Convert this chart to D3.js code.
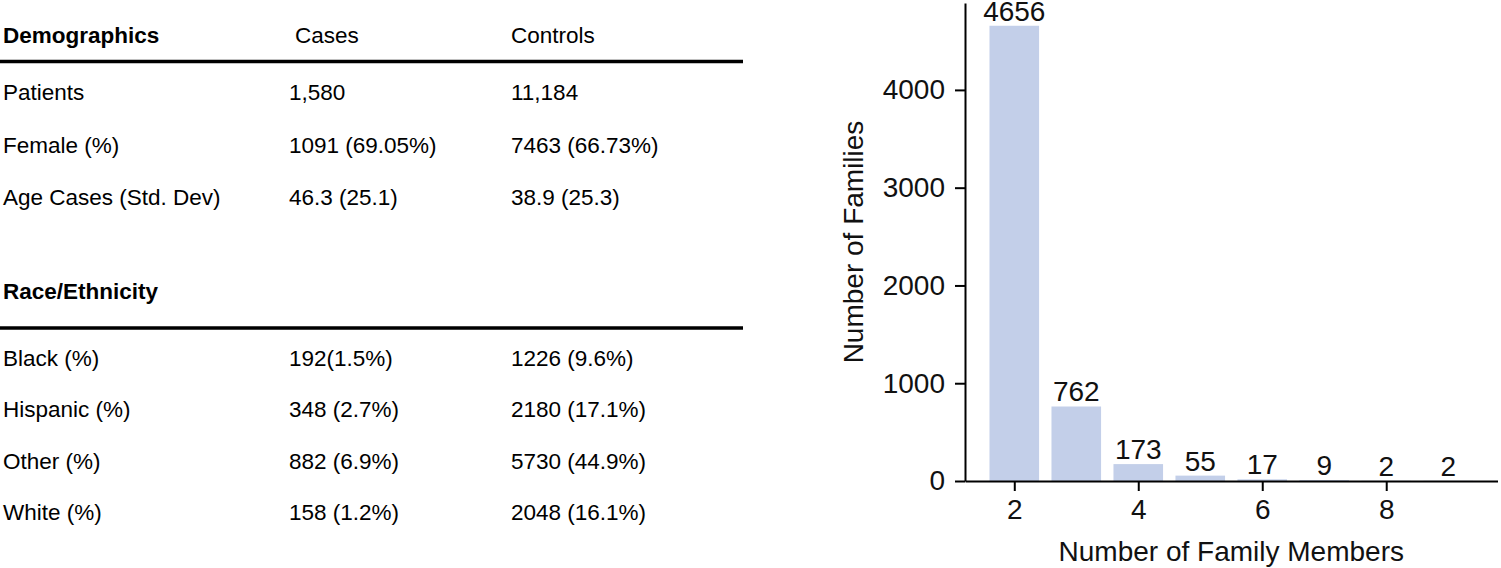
<!DOCTYPE html>
<html>
<head>
<meta charset="utf-8">
<script src="https://cdn.jsdelivr.net/npm/d3@7"></script>
<style>
  body { margin: 0; background: #fff; }
  svg { display: block; font-family: "Liberation Sans", Arial, sans-serif; }
</style>
</head>
<body>
<div id="chart"></div>
<script>
// Data
const tableHeaders = ['Demographics', 'Cases', 'Controls']
const demoLabels = ['Patients', 'Female (%)', 'Age Cases (Std. Dev)']
const demoCases = ['1,580', '1091 (69.05%)', '46.3 (25.1)']
const demoControls = ['11,184', '7463 (66.73%)', '38.9 (25.3)']
const raceTitle = 'Race/Ethnicity'
const raceLabels = ['Black (%)', 'Hispanic (%)', 'Other (%)', 'White (%)']
const raceCases = ['192(1.5%)', '348 (2.7%)', '882 (6.9%)', '158 (1.2%)']
const raceControls = ['1226 (9.6%)', '2180 (17.1%)', '5730 (44.9%)', '2048 (16.1%)']

const familySizes = [2, 3, 4, 5, 6, 7, 8, 9]
const familyCounts = [4656, 762, 173, 55, 17, 9, 2, 2]
const xTicks = [2, 4, 6, 8]
const yTicks = [0, 1000, 2000, 3000, 4000]

function draw() {
  const dimensions = { width: 1501, height: 568 }

  const svg = d3.select('#chart')
    .append('svg')
    .attr('width', dimensions.width)
    .attr('height', dimensions.height)

  // Table
  const table = svg.append('g').classed('table', true)
  const colX = [3, 289, 511]
  const headX = [3, 295, 511]
  const tableFont = 22.5

  const addRow = (cells, y, boldFirst, xs) => {
    cells.forEach((t, i) => {
      table.append('text')
        .attr('x', xs[i])
        .attr('y', y)
        .attr('font-size', tableFont)
        .attr('font-weight', boldFirst && i === 0 ? 'bold' : 'normal')
        .attr('fill', '#000')
        .text(t)
    })
  }

  addRow(tableHeaders, 43, true, headX)
  table.append('line')
    .attr('x1', 0).attr('x2', 743)
    .attr('y1', 61.5).attr('y2', 61.5)
    .attr('stroke', '#000').attr('stroke-width', 3.5)

  const demoY = d3.scalePoint().domain(demoLabels).range([100, 205])
  demoLabels.forEach((d, i) => addRow([d, demoCases[i], demoControls[i]], demoY(d), false, colX))

  addRow([raceTitle], 299, true, colX)
  table.append('line')
    .attr('x1', 0).attr('x2', 743)
    .attr('y1', 328).attr('y2', 328)
    .attr('stroke', '#000').attr('stroke-width', 3.5)

  const raceY = d3.scalePoint().domain(raceLabels).range([366, 520])
  raceLabels.forEach((d, i) => addRow([d, raceCases[i], raceControls[i]], raceY(d), false, colX))

  // Bar chart
  const xScale = d3.scaleLinear()
    .domain([1.205, 9.795])
    .range([965, 1497.5])

  const yScale = d3.scaleLinear()
    .domain([0, 4888.8])
    .range([481, 3])

  const barWidth = xScale(0.8) - xScale(0)
  const chart = svg.append('g').classed('bars', true)

  chart.selectAll('rect')
    .data(familySizes)
    .join('rect')
    .attr('x', (d) => xScale(d) - barWidth / 2)
    .attr('y', (d, i) => yScale(familyCounts[i]))
    .attr('width', barWidth)
    .attr('height', (d, i) => yScale(0) - yScale(familyCounts[i]))
    .attr('fill', '#c3cfe9')

  chart.selectAll('text.value')
    .data(familySizes)
    .join('text')
    .classed('value', true)
    .attr('x', (d) => xScale(d))
    .attr('y', (d, i) => yScale(familyCounts[i]) - 5)
    .attr('text-anchor', 'middle')
    .attr('font-size', 28)
    .attr('fill', '#111')
    .text((d, i) => familyCounts[i])

  // Axis
  const xAxis = d3.axisBottom(xScale)
    .tickValues(xTicks)
    .tickSize(10)
    .tickPadding(8)
    .tickSizeOuter(0)
  const yAxis = d3.axisLeft(yScale)
    .tickValues(yTicks)
    .tickFormat(d3.format('d'))
    .tickSize(10)
    .tickPadding(10)
    .tickSizeOuter(0)

  const gx = svg.append('g')
    .attr('transform', `translate(0, ${yScale(0)})`)
    .call(xAxis)
  const gy = svg.append('g')
    .attr('transform', `translate(${xScale.range()[0]}, 0)`)
    .call(yAxis)

  ;[gx, gy].forEach(g => {
    g.attr('font-family', null)
    g.selectAll('path, line').attr('stroke', '#000').attr('stroke-width', 2)
    g.selectAll('text').attr('font-size', 28).attr('fill', '#111')
  })

  svg.append('text')
    .attr('x', (xScale.range()[0] + xScale.range()[1]) / 2)
    .attr('y', 561)
    .attr('text-anchor', 'middle')
    .attr('font-size', 28)
    .attr('fill', '#111')
    .text('Number of Family Members')

  svg.append('text')
    .attr('transform', `translate(863, ${(yScale.range()[0] + yScale.range()[1]) / 2}) rotate(-90)`)
    .attr('text-anchor', 'middle')
    .attr('font-size', 28)
    .attr('fill', '#111')
    .text('Number of Families')
}

draw()
</script>
</body>
</html>
